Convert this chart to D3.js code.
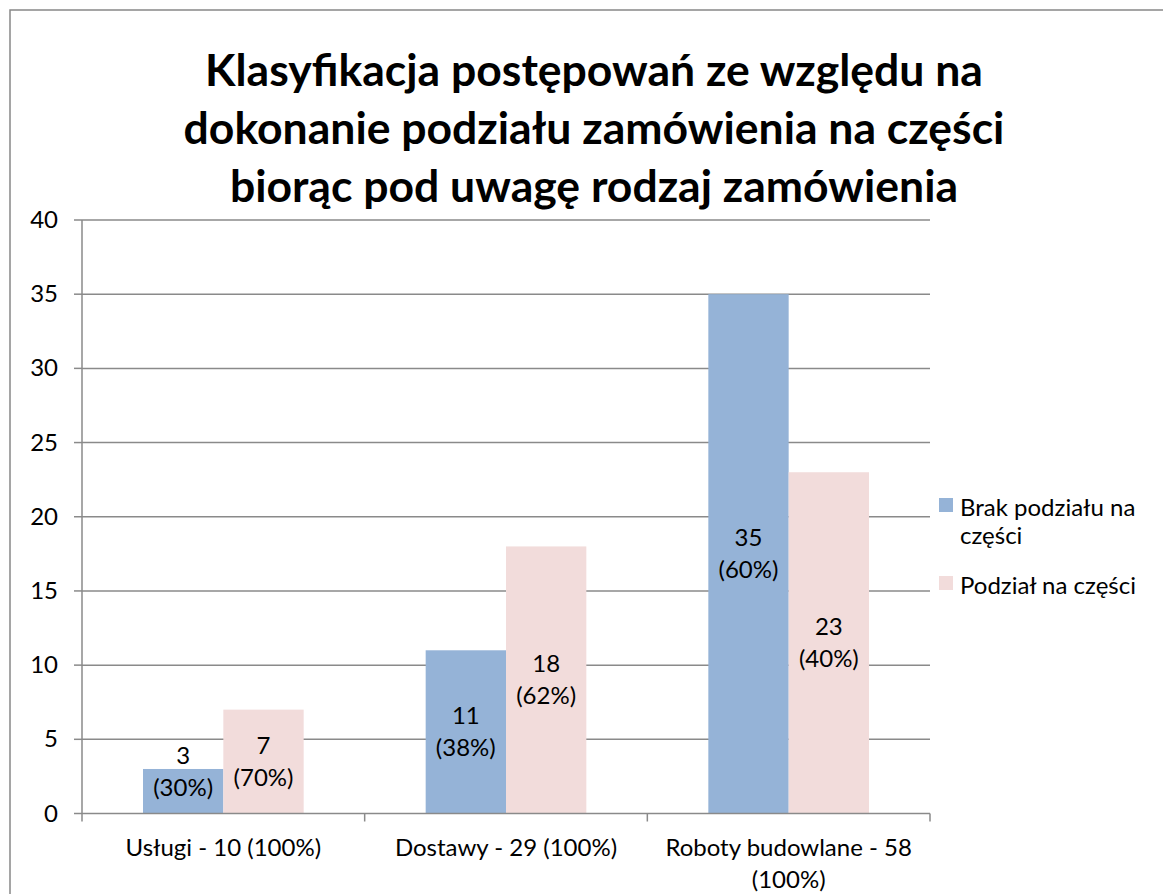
<!DOCTYPE html>
<html>
<head>
<meta charset="utf-8">
<script src="https://cdn.jsdelivr.net/npm/d3@7"></script>
<style>
  body { margin: 0; background: #fff; }
  svg text { font-family: Lato, "Open Sans", sans-serif; fill: #000; }
</style>
</head>
<body>
<svg id="chart" width="1163" height="894"></svg>
<script>
// data
var titleLines = ["Klasyfikacja postępowań ze względu na",
                  "dokonanie podziału zamówienia na części",
                  "biorąc pod uwagę rodzaj zamówienia"];
var categories = ["Usługi - 10 (100%)", "Dostawy - 29 (100%)", "Roboty budowlane - 58 (100%)"];
var seriesNames = ["Brak podziału na części", "Podział na części"];
var brak = [3, 11, 35];
var podzial = [7, 18, 23];
var brakPct = ["30%", "38%", "60%"];
var podzialPct = ["70%", "62%", "40%"];
var yTicks = [0, 5, 10, 15, 20, 25, 30, 35, 40];
var colors = ["#95b3d7", "#f2dcdb"];

var svg = d3.select("#chart");
var plotL = 82, plotR = 930, plotT = 220, plotB = 813.5;

// outer frame
svg.append("rect")
    .attr("x", 10).attr("y", 10)
    .attr("width", 1200).attr("height", 1000)
    .attr("fill", "none")
    .attr("stroke", "#888")
    .attr("stroke-width", 1.5);

svg.selectAll(".title")
    .data(titleLines)
    .enter().append("text")
    .attr("class", "title")
    .attr("x", 594)
    .attr("y", function(d, i) { return 86 + i * 58; })
    .attr("text-anchor", "middle")
    .style("font-size", "44.5px")
    .style("font-weight", "bold")
    .text(function(d) { return d; });

var y = d3.scaleLinear().domain([0, 40]).range([plotB, plotT]);
var x0 = d3.scaleBand().domain(categories).range([plotL, plotR]).paddingInner(0).paddingOuter(0);
var x1 = d3.scaleBand().domain(seriesNames).range([61, x0.bandwidth() - 61]);

// gridlines
svg.append("g")
    .selectAll("line")
    .data(yTicks.filter(function(d) { return d > 0; }))
    .enter().append("line")
    .attr("x1", plotL).attr("x2", plotR)
    .attr("y1", function(d) { return y(d); })
    .attr("y2", function(d) { return y(d); })
    .attr("stroke", "#8a8a8a")
    .attr("stroke-width", 1.5);

// bars
var table = categories.map(function(c, i) {
  return {cat: c, vals: [
    {s: seriesNames[0], v: brak[i], p: brakPct[i], k: 0},
    {s: seriesNames[1], v: podzial[i], p: podzialPct[i], k: 1}
  ]};
});

var groups = svg.selectAll(".grp")
    .data(table)
    .enter().append("g")
    .attr("class", "grp")
    .attr("transform", function(d) { return "translate(" + x0(d.cat) + ",0)"; });

groups.selectAll("rect")
    .data(function(d) { return d.vals; })
    .enter().append("rect")
    .attr("x", function(d) { return x1(d.s); })
    .attr("width", x1.bandwidth())
    .attr("y", function(d) { return y(d.v); })
    .attr("height", function(d) { return y(0) - y(d.v); })
    .attr("fill", function(d) { return colors[d.k]; });

// value labels, centered in bar (kept above axis for short bars)
var lbl = groups.selectAll(".lbl")
    .data(function(d) { return d.vals; })
    .enter().append("text")
    .attr("class", "lbl")
    .attr("text-anchor", "middle")
    .style("font-size", "24px");
lbl.each(function(d) {
  var cy = Math.min((y(d.v) + y(0)) / 2, y(0) - 42);
  var t = d3.select(this);
  var cx = x1(d.s) + x1.bandwidth() / 2;
  t.append("tspan").attr("x", cx).attr("y", cy - 16 + 8).text(d.v);
  t.append("tspan").attr("x", cx).attr("y", cy + 16 + 8).text("(" + d.p + ")");
});

// y axis
svg.append("line")
    .attr("x1", plotL).attr("x2", plotL)
    .attr("y1", plotT).attr("y2", plotB)
    .attr("stroke", "#8a8a8a").attr("stroke-width", 1.5);
svg.append("g").selectAll("line")
    .data(yTicks)
    .enter().append("line")
    .attr("x1", plotL - 8).attr("x2", plotL)
    .attr("y1", function(d) { return y(d); })
    .attr("y2", function(d) { return y(d); })
    .attr("stroke", "#8a8a8a").attr("stroke-width", 1.5);
svg.append("g").selectAll("text")
    .data(yTicks)
    .enter().append("text")
    .attr("x", 58)
    .attr("y", function(d) { return y(d) + 8; })
    .attr("text-anchor", "end")
    .style("font-size", "24px")
    .text(function(d) { return d; });

// x axis
svg.append("line")
    .attr("x1", plotL).attr("x2", plotR)
    .attr("y1", plotB).attr("y2", plotB)
    .attr("stroke", "#8a8a8a").attr("stroke-width", 1.5);
var bounds = categories.map(function(c) { return x0(c); }).concat([plotR]);
svg.append("g").selectAll("line")
    .data(bounds)
    .enter().append("line")
    .attr("x1", function(d) { return d; })
    .attr("x2", function(d) { return d; })
    .attr("y1", plotB).attr("y2", plotB + 8)
    .attr("stroke", "#8a8a8a").attr("stroke-width", 1.5);

var xl = svg.append("g").selectAll("text")
    .data(categories)
    .enter().append("text")
    .attr("text-anchor", "middle")
    .style("font-size", "24px");
xl.each(function(d) {
  var cx = x0(d) + x0.bandwidth() / 2;
  var t = d3.select(this);
  var m = d.match(/^(.*) (\(100%\))$/);
  var lines = [d];
  if (d.length > 22) lines = [m[1], m[2]];
  lines.forEach(function(s, i) {
    t.append("tspan").attr("x", cx).attr("y", 856 + i * 32).text(s);
  });
});

// legend
var leg = svg.append("g");
var legLines = [["Brak podziału na", "części"], ["Podział na części"]];
var legY = [498, 576];
seriesNames.forEach(function(s, i) {
  leg.append("rect")
      .attr("x", 939).attr("y", legY[i])
      .attr("width", 14).attr("height", 14)
      .attr("fill", colors[i]);
  var t = leg.append("text").style("font-size", "24px");
  legLines[i].forEach(function(l, j) {
    t.append("tspan").attr("x", 960).attr("y", legY[i] + 18 + j * 28).text(l);
  });
});
</script>
</body>
</html>
